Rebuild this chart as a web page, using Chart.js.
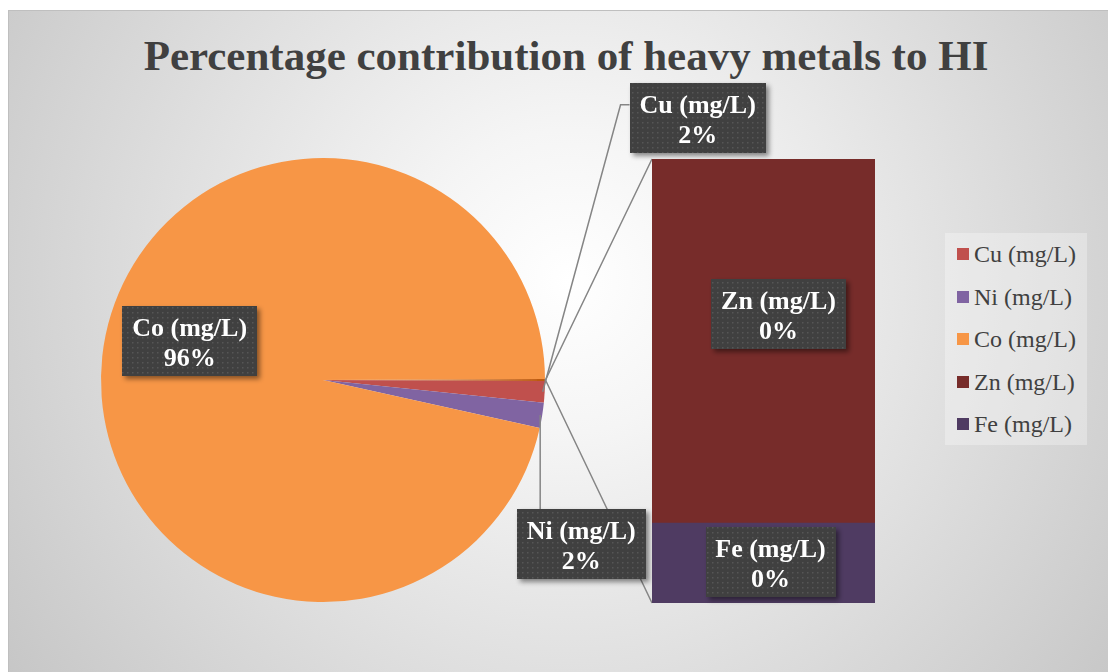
<!DOCTYPE html>
<html>
<head>
<meta charset="utf-8">
<script src="https://cdn.jsdelivr.net/npm/chart.js@4.4.0/dist/chart.umd.min.js"></script>
<style>
  html, body { margin: 0; padding: 0; background: #fff; }
  #wrap { position: relative; width: 1108px; height: 672px; overflow: hidden; background: #fff; }
  #frame {
    position: absolute; left: 8px; top: 10px; width: 1110px; height: 670px;
    border-top: 1px solid #bfbfbf; border-left: 1px solid #bfbfbf;
    background: radial-gradient(circle farthest-corner at 560px 270px, #ffffff 0%, #f5f5f5 22%, #c6c6c6 100%);
  }
  #title {
    position: absolute; left: 100px; width: 932px; top: 34px;
    font: bold 43px "Liberation Serif", "Times New Roman", serif; line-height: 43px;
    color: #404040; text-align: center; white-space: nowrap;
  }
  #legend {
    position: absolute; left: 945px; top: 233px; width: 142px; height: 212px;
    background: rgba(255, 255, 255, 0.3);
  }
  .item { position: absolute; left: 12px; height: 24px; }
  .item i { position: absolute; left: 0; top: 6px; width: 12px; height: 12px; }
  .item span {
    position: absolute; left: 17px; top: 0; white-space: nowrap;
    font: 24px "Liberation Serif", "Times New Roman", serif; line-height: 24px; color: #404040;
  }
  canvas { position: absolute; left: 0; top: 0; }
</style>
</head>
<body>
<div id="wrap">
  <div id="frame"></div>
  <div id="title">Percentage contribution of heavy metals to HI</div>
  <div id="legend"></div>
  <canvas id="pie" width="1108" height="672"></canvas>
  <canvas id="bar" width="1108" height="672"></canvas>
</div>
<script>
const metals = ["Cu (mg/L)", "Ni (mg/L)", "Co (mg/L)", "Zn (mg/L)", "Fe (mg/L)"];
const shares = [1.55, 1.85, 96.45, 0.123, 0.027];
const colors = ["#C0504D", "#8064A2", "#F79646", "#772C2A", "#4F3B62"];
const otherColor = "#BD5A0E";
const inBar = 2; // last two values go into the bar

const pieNames = metals.slice(0, metals.length - inBar);
const barNames = metals.slice(metals.length - inBar);
const barValues = shares.slice(shares.length - inBar);
const otherValue = barValues.reduce((a, b) => a + b, 0);
const pieValues = [otherValue, ...shares.slice(0, shares.length - inBar)];
const total = pieValues.reduce((a, b) => a + b, 0);

// label box offsets from each mark's anchor point
const labelOffset = {
  "Cu (mg/L)": [155, -274],
  "Ni (mg/L)": [41, 129],
  "Co (mg/L)": [-23, -27],
  "Zn (mg/L)": [15, -27],
  "Fe (mg/L)": [7, -1],
};

const lineColor = "#858585";
const labelFont = 'bold 26px "Liberation Serif", "Times New Roman", serif';

// legend
const legend = document.getElementById("legend");
metals.forEach((m, i) => {
  const d = document.createElement("div");
  d.className = "item";
  d.style.top = (9 + i * 42.5) + "px";
  d.innerHTML = `<i style="background:${colors[i]}"></i><span>${m}</span>`;
  legend.appendChild(d);
});

function dotPattern(ctx) {
  const c = document.createElement("canvas");
  c.width = 5; c.height = 5;
  const p = c.getContext("2d");
  p.fillStyle = "#404040";
  p.fillRect(0, 0, 5, 5);
  p.fillStyle = "#565656";
  p.fillRect(2, 2, 1.5, 1.5);
  return ctx.createPattern(c, "repeat");
}

// draws a dark label box centred on (cx, cy)
function labelBox(ctx, name, pct, cx, cy) {
  ctx.save();
  ctx.font = labelFont;
  const w = Math.round(ctx.measureText(name).width + 20);
  const h = 70;
  const x = Math.round(cx - w / 2), y = Math.round(cy - h / 2);
  ctx.shadowColor = "rgba(0,0,0,0.45)";
  ctx.shadowBlur = 5;
  ctx.shadowOffsetX = 3;
  ctx.shadowOffsetY = 3;
  ctx.fillStyle = dotPattern(ctx);
  ctx.fillRect(x, y, w, h);
  ctx.shadowColor = "transparent";
  ctx.fillStyle = "#ffffff";
  ctx.textAlign = "center";
  ctx.textBaseline = "alphabetic";
  ctx.fillText(name, cx, y + 30);
  ctx.fillText(pct, cx, y + 60);
  ctx.restore();
}

function pctText(v) {
  return Math.round(v / total * 100) + "%";
}

let barChart;

const barLabels = {
  id: "barLabels",
  afterDatasetsDraw(chart) {
    const ctx = chart.ctx;
    chart.data.datasets.forEach((ds, i) => {
      const el = chart.getDatasetMeta(i).data[0];
      const cy = (el.y + el.base) / 2;
      const off = labelOffset[ds.label];
      labelBox(ctx, ds.label, pctText(ds.data[0]), el.x + off[0], cy + off[1]);
    });
  }
};

const pieExtras = {
  id: "pieExtras",
  afterDatasetsDraw(chart) {
    const ctx = chart.ctx;
    const arcs = chart.getDatasetMeta(0).data;
    const other = arcs[0];
    const r = other.outerRadius;
    const cx = other.x, cy = other.y;
    const edge = (a, rr) => [cx + Math.cos(a) * rr, cy + Math.sin(a) * rr];

    // connector lines from the "other" slice to the bar
    const barEl = barChart.getDatasetMeta(0).data[0];
    const barLeft = barEl.x - barEl.width / 2;
    const topBar = barChart.getDatasetMeta(barChart.data.datasets.length - 1).data[0].y;
    const botBar = barEl.base;
    const p1 = edge(other.startAngle, r);
    const p2 = edge(other.endAngle, r);
    ctx.save();
    ctx.strokeStyle = lineColor;
    ctx.lineWidth = 1.5;
    ctx.beginPath();
    ctx.moveTo(p2[0], p2[1]); ctx.lineTo(barLeft, topBar);
    ctx.moveTo(p1[0], p1[1]); ctx.lineTo(barLeft, botBar);
    ctx.stroke();
    ctx.restore();

    // labels for the pie slices
    pieNames.forEach((name, k) => {
      const arc = arcs[k + 1];
      const mid = (arc.startAngle + arc.endAngle) / 2;
      const off = labelOffset[name];
      const val = pieValues[k + 1];
      if (val / total > 0.5) {
        const a = arc.tooltipPosition();
        labelBox(ctx, name, pctText(val), a.x + off[0], a.y + off[1]);
        return;
      }
      const e = edge(mid, r - 2);
      const bx = e[0] + off[0], by = e[1] + off[1];
      ctx.save();
      ctx.font = labelFont;
      const w = ctx.measureText(name).width + 20;
      ctx.strokeStyle = lineColor;
      ctx.lineWidth = 1.5;
      ctx.beginPath();
      ctx.moveTo(e[0], e[1]);
      if (by < e[1]) {
        const left = bx - w / 2;
        ctx.lineTo(left - 9, by - 13);
        ctx.lineTo(left, by - 13);
      } else {
        ctx.lineTo(e[0], by - 35);
      }
      ctx.stroke();
      ctx.restore();
      labelBox(ctx, name, pctText(val), bx, by);
    });
  }
};

barChart = new Chart(document.getElementById("bar"), {
  type: "bar",
  data: {
    labels: [""],
    datasets: barNames.slice().reverse().map((name) => {
      const i = metals.indexOf(name);
      return { label: name, data: [shares[i]], backgroundColor: colors[i], borderWidth: 0 };
    }),
  },
  options: {
    responsive: false,
    animation: false,
    layout: { padding: { left: 652, right: 233, top: 159, bottom: 69 } },
    datasets: { bar: { barPercentage: 1, categoryPercentage: 1 } },
    scales: {
      x: { display: false, stacked: true },
      y: { display: false, stacked: true, min: 0, max: otherValue },
    },
    plugins: { legend: { display: false }, tooltip: { enabled: false } },
  },
  plugins: [barLabels],
});

new Chart(document.getElementById("pie"), {
  type: "pie",
  data: {
    labels: ["Other", ...pieNames],
    datasets: [{
      data: pieValues,
      backgroundColor: [otherColor, ...colors.slice(0, pieNames.length)],
      borderWidth: 0,
    }],
  },
  options: {
    responsive: false,
    animation: false,
    rotation: 90 - (otherValue / total) * 180,
    layout: { padding: { left: 101, right: 563, top: 158, bottom: 70 } },
    plugins: { legend: { display: false }, tooltip: { enabled: false } },
  },
  plugins: [pieExtras],
});
</script>
</body>
</html>
